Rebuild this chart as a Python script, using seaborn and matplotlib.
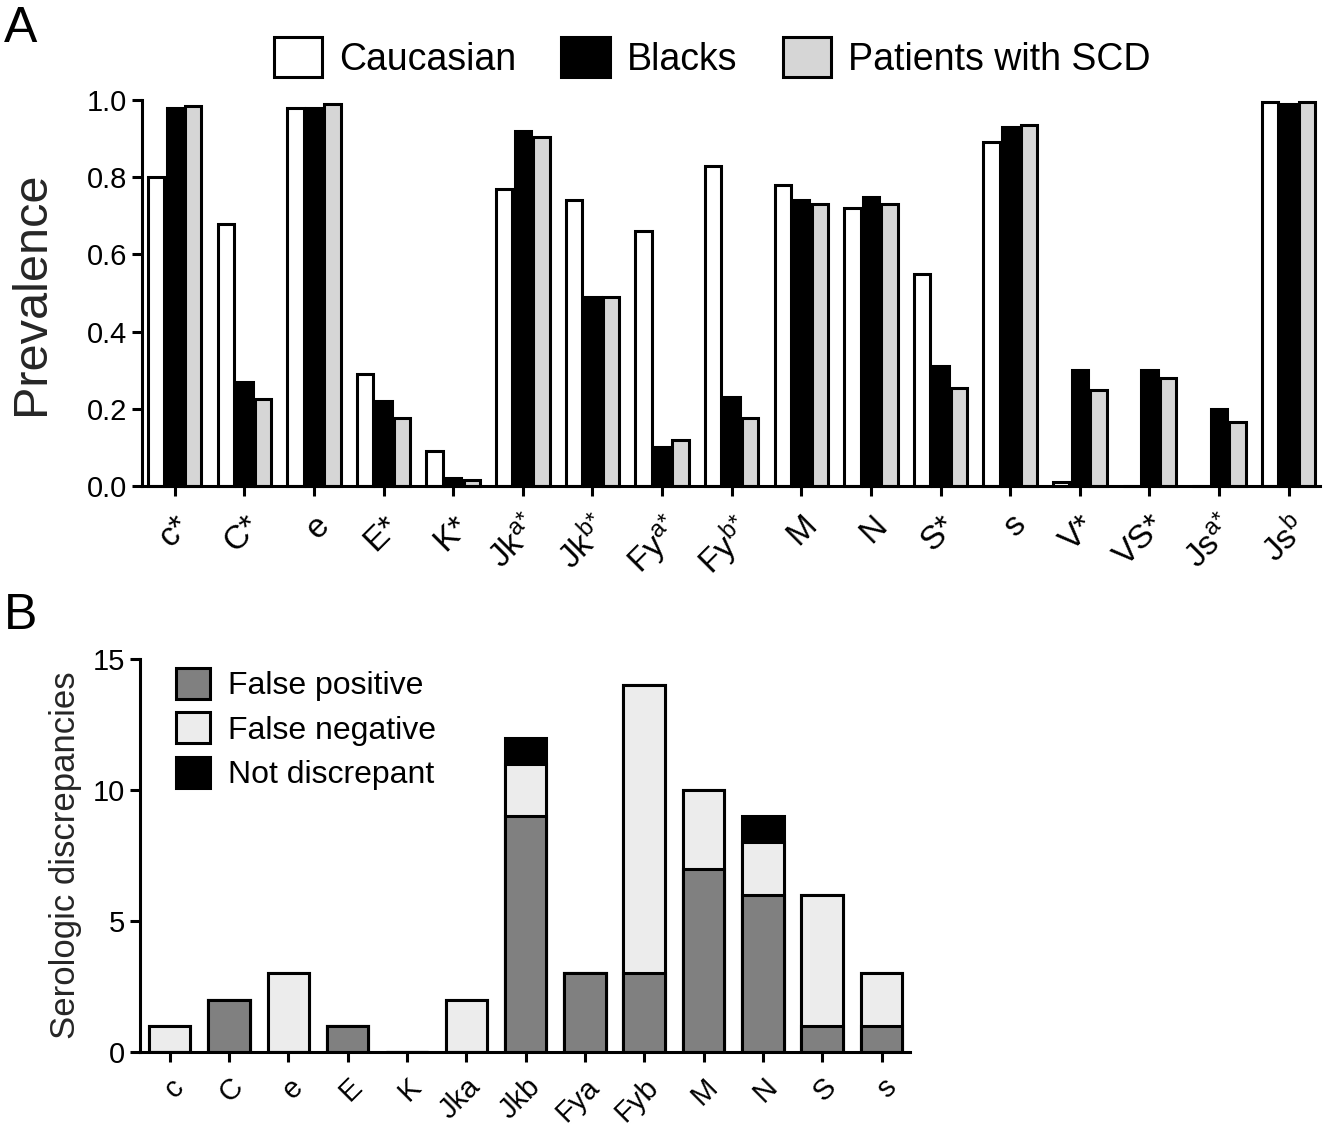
import matplotlib
matplotlib.use("Agg")
import matplotlib.pyplot as plt
from matplotlib.patches import Patch
import seaborn as sns
import pandas as pd
import numpy as np

# ---------------- data ----------------
antigens_a = ["c*", "C*", "e", "E*", "K*", r"Jk$^{a\text{*}}$", r"Jk$^{b\text{*}}$",
              r"Fy$^{a\text{*}}$", r"Fy$^{b\text{*}}$", "M", "N", "S*", "s", "V*", "VS*",
              r"Js$^{a\text{*}}$", r"Js$^{b}$"]
groups_a = ["Caucasian", "Blacks", "Patients with SCD"]
caucasian = [0.80, 0.68, 0.98, 0.29, 0.09, 0.77, 0.74, 0.66, 0.83, 0.78, 0.72, 0.55, 0.89, 0.01, 0.0, 0.0, 0.995]
blacks =    [0.98, 0.27, 0.98, 0.22, 0.02, 0.92, 0.49, 0.10, 0.23, 0.74, 0.75, 0.31, 0.93, 0.30, 0.30, 0.20, 0.99]
scd =       [0.985, 0.225, 0.99, 0.175, 0.015, 0.905, 0.49, 0.12, 0.175, 0.73, 0.73, 0.255, 0.935, 0.25, 0.28, 0.165, 0.995]

antigens_b = ["c", "C", "e", "E", "K", "Jka", "Jkb", "Fya", "Fyb", "M", "N", "S", "s"]
false_pos = [0, 2, 0, 1, 0, 0, 9, 3, 3, 7, 6, 1, 1]
false_neg = [1, 0, 3, 0, 0, 2, 2, 0, 11, 3, 2, 5, 2]
not_disc = [0, 0, 0, 0, 0, 0, 1, 0, 0, 0, 1, 0, 0]

# ---------------- style ----------------
sns.set_theme(style="ticks")
plt.rcParams["font.family"] = ["Liberation Sans", "DejaVu Sans"]
plt.rcParams["mathtext.fontset"] = "custom"
plt.rcParams["mathtext.rm"] = "Liberation Sans"
plt.rcParams["mathtext.it"] = "Liberation Sans"
plt.rcParams["mathtext.default"] = "regular"
plt.rcParams["axes.linewidth"] = 2.2
plt.rcParams["xtick.major.width"] = 2.2
plt.rcParams["ytick.major.width"] = 2.2
plt.rcParams["xtick.major.size"] = 7
plt.rcParams["ytick.major.size"] = 7
plt.rcParams["axes.edgecolor"] = "black"
plt.rcParams["xtick.color"] = "black"
plt.rcParams["ytick.color"] = "black"
plt.rcParams["text.color"] = "black"

fig = plt.figure(figsize=(13.31, 11.29), dpi=100)

# ---------------- panel A ----------------
axA = fig.add_axes([0.1067, 0.5695, 0.8850, 0.3419])
dfA = pd.DataFrame({
    "antigen": np.repeat(antigens_a, 3),
    "group": groups_a * len(antigens_a),
    "value": np.ravel(np.column_stack([caucasian, blacks, scd])),
})
palA = {"Caucasian": "white", "Blacks": "black", "Patients with SCD": "#d6d6d6"}
sns.barplot(data=dfA, x="antigen", y="value", hue="group", order=antigens_a,
            hue_order=groups_a, palette=palA, width=0.8, gap=0.12,
            edgecolor="black", linewidth=2.2, saturation=1, ax=axA, legend=False)
axA.set_xlim(-0.47, 16.45)
axA.set_ylim(0, 1.0)
axA.set_yticks([0, 0.2, 0.4, 0.6, 0.8, 1.0])
axA.set_yticklabels([f"{v:.1f}" for v in [0, 0.2, 0.4, 0.6, 0.8, 1.0]], fontsize=21)
axA.set_xticks(range(len(antigens_a)))
axA.set_xticklabels(antigens_a, fontsize=24, rotation=45, ha="right", rotation_mode="anchor")
axA.tick_params(axis="x", pad=10)
axA.set_xlabel("")
axA.set_ylabel("Prevalence", fontsize=35, labelpad=24)
sns.despine(ax=axA)
for p in axA.patches:
    p.set_clip_on(False)

handlesA = [Patch(facecolor=palA[g], edgecolor="black", linewidth=2.2) for g in groups_a]
axA.legend(handlesA, groups_a, loc="lower center", bbox_to_anchor=(0.484, 1.0), ncol=3,
           frameon=False, fontsize=27, handlelength=1.3, handleheight=1.25,
           handletextpad=0.45, columnspacing=1.2, borderaxespad=0.2)

fig.text(0.003, 0.995, "A", fontsize=36, ha="left", va="top")

# ---------------- panel B ----------------
axB = fig.add_axes([0.1052, 0.0682, 0.5785, 0.3481])
tot_fp_fn = [a + b for a, b in zip(false_pos, false_neg)]
tot_all = [a + b for a, b in zip(tot_fp_fn, not_disc)]
dfB = pd.DataFrame({"antigen": antigens_b, "fp": false_pos, "fpfn": tot_fp_fn, "all": tot_all})
common = dict(x="antigen", order=antigens_b, width=0.7, edgecolor="black",
              linewidth=2.2, saturation=1, ax=axB)
sns.barplot(data=dfB, y="all", color="black", **common)
sns.barplot(data=dfB, y="fpfn", color="#ececec", **common)
sns.barplot(data=dfB, y="fp", color="#808080", **common)
axB.set_xlim(-0.5, 12.48)
axB.set_ylim(0, 15)
axB.set_yticks([0, 5, 10, 15])
axB.set_yticklabels(["0", "5", "10", "15"], fontsize=21)
axB.set_xticks(range(len(antigens_b)))
axB.set_xticklabels(antigens_b, fontsize=21, rotation=45, ha="right", rotation_mode="anchor")
axB.tick_params(axis="x", pad=8)
axB.set_xlabel("")
axB.set_ylabel("Serologic discrepancies", fontsize=25, labelpad=8)
sns.despine(ax=axB)

handlesB = [Patch(facecolor="#808080", edgecolor="black", linewidth=2.2),
            Patch(facecolor="#ececec", edgecolor="black", linewidth=2.2),
            Patch(facecolor="black", edgecolor="black", linewidth=2.2)]
axB.legend(handlesB, ["False positive", "False negative", "Not discrepant"],
           loc="upper left", bbox_to_anchor=(0.01, 1.05), frameon=False, fontsize=23,
           handlelength=1.05, handleheight=1.1, handletextpad=0.55, labelspacing=0.35)

fig.text(0.003, 0.475, "B", fontsize=36, ha="left", va="top")

fig.savefig("out.png", dpi=100)
